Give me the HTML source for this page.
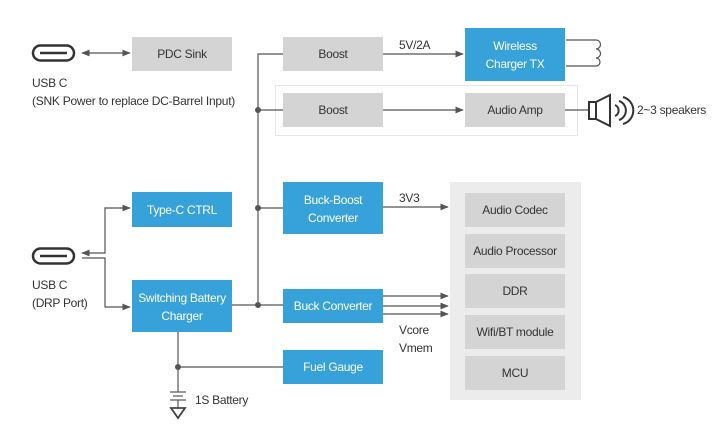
<!DOCTYPE html>
<html><head><meta charset="utf-8"><style>
body{margin:0;background:#fff}
svg{display:block;font-family:"Liberation Sans",sans-serif;letter-spacing:-0.3px}
.b{fill:#36a2d9}.g{fill:#d4d4d4}
.tw{fill:#fff;font-size:12px;text-anchor:middle}
.tk{fill:#333;font-size:12px;text-anchor:middle}
.l{fill:#333;font-size:12px}
.ln{stroke:#555;stroke-width:1.2;fill:none}
</style></head><body>
<svg width="714" height="438" viewBox="0 0 714 438">
<defs><marker id="a" viewBox="0 0 10 10" refX="9" refY="5" markerWidth="7" markerHeight="7" orient="auto-start-reverse"><path d="M0,1 L10,5 L0,9z" fill="#555"/></marker></defs>
<rect x="275.5" y="85.5" width="302" height="50" fill="#fff" stroke="#e6e6e6"/>
<rect x="450" y="182" width="131" height="218" fill="#ececec"/>
<rect x="33" y="45.5" width="41" height="15" rx="7.5" fill="none" stroke="#333" stroke-width="2.5"/>
<line x1="40" y1="53" x2="67" y2="53" stroke="#333" stroke-width="2.5"/>
<rect x="33" y="248.5" width="41" height="15" rx="7.5" fill="none" stroke="#333" stroke-width="2.5"/>
<line x1="40" y1="256" x2="67" y2="256" stroke="#333" stroke-width="2.5"/>
<text class="l" x="32" y="87">USB C</text>
<text class="l" x="32" y="105" textLength="203">(SNK Power to replace DC-Barrel Input)</text>
<text class="l" x="32" y="289">USB C</text>
<text class="l" x="32" y="307">(DRP Port)</text>
<line class="ln" x1="82" y1="53" x2="130" y2="53" marker-start="url(#a)" marker-end="url(#a)"/>
<path class="ln" d="M258,305 V54 H283"/>
<line class="ln" x1="258" y1="110" x2="283" y2="110"/>
<line class="ln" x1="258" y1="208" x2="283" y2="208"/>
<line class="ln" x1="232" y1="305" x2="283" y2="305"/>
<circle cx="258" cy="110" r="3" fill="#555"/><circle cx="258" cy="208" r="3" fill="#555"/><circle cx="258" cy="305" r="3" fill="#555"/>
<line class="ln" x1="383" y1="54" x2="463" y2="54" marker-end="url(#a)"/>
<line class="ln" x1="383" y1="110" x2="463" y2="110" marker-end="url(#a)"/>
<line class="ln" x1="383" y1="207" x2="448" y2="207" marker-end="url(#a)"/>
<line class="ln" x1="383" y1="296" x2="448" y2="296" marker-end="url(#a)"/>
<line class="ln" x1="383" y1="306" x2="448" y2="306" marker-end="url(#a)"/>
<line class="ln" x1="383" y1="314" x2="448" y2="314" marker-end="url(#a)"/>
<path class="ln" d="M130,208 H105 V253 H82" marker-start="url(#a)" marker-end="url(#a)"/>
<path class="ln" d="M82,258 H105 V307 H130" marker-end="url(#a)"/>
<path class="ln" d="M178,332 V392"/>
<line class="ln" x1="178" y1="367" x2="283" y2="367"/>
<circle cx="178" cy="367" r="3" fill="#555"/>
<line class="ln" x1="170" y1="392" x2="186" y2="392"/><line class="ln" x1="173" y1="396" x2="183" y2="396"/><line class="ln" x1="170" y1="400" x2="186" y2="400"/>
<path class="ln" d="M178,400 V408"/><path d="M171,408 H185 L178,418z" fill="none" stroke="#444" stroke-width="1.8"/>
<text class="l" x="195" y="404">1S Battery</text>
<path class="ln" d="M566,40 H596 a4,4 0 0 1 0,9 a4,4 0 0 1 0,9 a4,4 0 0 1 0,8 H566"/>
<line class="ln" x1="565" y1="110" x2="588" y2="110"/>
<path d="M589,102 H596 V119 H589z M596,102 L610,95 V126 L596,119" fill="none" stroke="#333" stroke-width="2"/>
<path d="M615,105 a6,6 0 0 1 0,11 M619,101 a10,10 0 0 1 0,19 M623,97 a14,14 0 0 1 0,27" fill="none" stroke="#333" stroke-width="2"/>
<text class="l" x="637" y="114" textLength="69">2~3 speakers</text>
<text class="l" x="399" y="49">5V/2A</text>
<text class="l" x="399" y="202">3V3</text>
<text class="l" x="399" y="334">Vcore</text>
<text class="l" x="399" y="352">Vmem</text>
<rect class="g" x="132" y="37" width="100" height="34"/><text class="tk" x="182" y="58">PDC Sink</text>
<rect class="g" x="283" y="37" width="100" height="34"/><text class="tk" x="333" y="58">Boost</text>
<rect class="g" x="283" y="93" width="100" height="34"/><text class="tk" x="333" y="114">Boost</text>
<rect class="b" x="465" y="28" width="100" height="53"/><text class="tw" x="515" y="50">Wireless</text><text class="tw" x="515" y="68">Charger TX</text>
<rect class="g" x="465" y="93" width="100" height="34"/><text class="tk" x="515" y="114">Audio Amp</text>
<rect class="b" x="132" y="192" width="100" height="35"/><text class="tw" x="182" y="214">Type-C CTRL</text>
<rect class="b" x="283" y="182" width="100" height="52"/><text class="tw" x="333" y="204">Buck-Boost</text><text class="tw" x="333" y="222">Converter</text>
<rect class="b" x="132" y="280" width="100" height="52"/><text class="tw" x="182" y="302">Switching Battery</text><text class="tw" x="182" y="320">Charger</text>
<rect class="b" x="283" y="289" width="100" height="34"/><text class="tw" x="333" y="310">Buck Converter</text>
<rect class="b" x="283" y="350" width="100" height="34"/><text class="tw" x="333" y="371">Fuel Gauge</text>
<rect class="g" x="465" y="193" width="100" height="34"/><text class="tk" x="515" y="214">Audio Codec</text>
<rect class="g" x="465" y="234" width="100" height="34"/><text class="tk" x="515" y="255">Audio Processor</text>
<rect class="g" x="465" y="274" width="100" height="34"/><text class="tk" x="515" y="295">DDR</text>
<rect class="g" x="465" y="315" width="100" height="34"/><text class="tk" x="515" y="336">Wifi/BT module</text>
<rect class="g" x="465" y="356" width="100" height="34"/><text class="tk" x="515" y="377">MCU</text>
</svg>
</body></html>
